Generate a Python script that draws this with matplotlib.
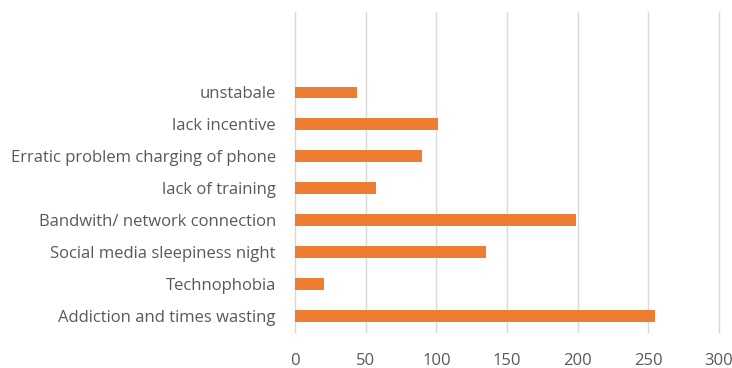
import numpy as np
import matplotlib.pyplot as plt

# categories bottom -> top, two empty slots at the top like the original
categories = ["Addiction and times wasting", "Technophobia", "Social media sleepiness night",
              "Bandwith/ network connection", "lack of training",
              "Erratic problem charging of phone", "lack incentive", "unstabale", "", ""]
values = [255, 20, 135, 199, 57, 90, 101, 44, np.nan, np.nan]
xticks = [0, 50, 100, 150, 200, 250, 300]

plt.rcParams['font.family'] = ['Open Sans', 'DejaVu Sans']

fig = plt.figure(figsize=(7.32, 3.68), dpi=100)
ax = fig.add_axes([0.4034, 0.0978, 0.5784, 0.8692])

y = np.arange(len(categories))
ax.barh(y, values, height=0.35, color="#ED7D31", zorder=3)

ax.set_xlim(0, 300)
ax.set_ylim(-0.5, len(categories) - 0.5)
ax.set_xticks(xticks)
ax.set_yticks(y)
ax.set_yticklabels(categories)
ax.grid(axis="x", color="#D9D9D9", linewidth=1, zorder=0)
for gl in ax.get_xgridlines():
    gl.set_clip_on(False)
for s in ["top", "right", "bottom"]:
    ax.spines[s].set_visible(False)
ax.spines["left"].set_color("#D9D9D9")
ax.tick_params(axis="both", length=0, labelsize=12, colors="#595959")
ax.tick_params(axis="y", pad=14)
ax.tick_params(axis="x", pad=15)

fig.savefig("out.png", dpi=100)
